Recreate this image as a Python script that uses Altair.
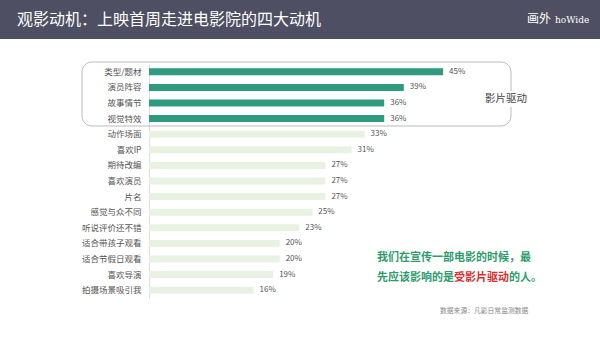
import altair as alt
import pandas as pd

categories = ["类型/题材", "演员阵容", "故事情节", "视觉特效", "动作场面", "喜欢IP", "期待改编",
              "喜欢演员", "片名", "感觉与众不同", "听说评价还不错", "适合带孩子观看", "适合节假日观看",
              "喜欢导演", "拍摄场景吸引我"]
values = [45, 39, 36, 36, 33, 31, 27, 27, 27, 25, 23, 20, 20, 19, 16]
groups = ["影片驱动"] * 4 + ["其他"] * 11

df = pd.DataFrame({"cat": categories, "val": values, "grp": groups})
df["label"] = df["val"].astype(str) + "%"

FONT = "Noto Sans CJK SC"

y = alt.Y("cat:N", sort=categories, title=None,
          scale=alt.Scale(paddingInner=0.55, paddingOuter=0.275),
          axis=alt.Axis(ticks=False, domainColor="#dddddd", labelColor="#555555",
                        labelFontSize=8.5, labelPadding=8, labelFont=FONT))
x = alt.X("val:Q", scale=alt.Scale(domain=[0, 60]), axis=None)

base = alt.Chart(df)

bars = base.mark_bar().encode(
    x=x, y=y,
    color=alt.Color("grp:N", scale=alt.Scale(domain=["影片驱动", "其他"],
                                             range=["#2e9b7e", "#e8f2e2"]), legend=None),
)
labels = base.mark_text(align="left", dx=6, fontSize=8, color="#555555", font=FONT).encode(
    x=x, y=y, text="label:N")

# decorations
header = alt.Chart(pd.DataFrame({"a": [0]})).mark_rect(color="#4e4f62").encode(
    x=alt.value(-149), x2=alt.value(451), y=alt.value(-64), y2=alt.value(-25))
title = alt.Chart(pd.DataFrame({"t": ["观影动机：上映首周走进电影院的四大动机"]})).mark_text(
    align="left", baseline="middle", fontSize=16, color="white", font=FONT).encode(
    x=alt.value(-132), y=alt.value(-44), text="t:N")
logo1 = alt.Chart(pd.DataFrame({"t": ["画外"]})).mark_text(
    align="left", baseline="middle", fontSize=12, color="white", font=FONT).encode(
    x=alt.value(378), y=alt.value(-45), text="t:N")
logo2 = alt.Chart(pd.DataFrame({"t": ["hoWide"]})).mark_text(
    align="left", baseline="middle", fontSize=9, color="white", font="DejaVu Serif").encode(
    x=alt.value(406), y=alt.value(-44), text="t:N")

box = alt.Chart(pd.DataFrame({"a": [0]})).mark_rect(
    filled=False, stroke="#bbbbbb", strokeWidth=1, cornerRadius=10).encode(
    x=alt.value(-67), x2=alt.value(362), y=alt.value(-2), y2=alt.value(62))
boxbg = alt.Chart(pd.DataFrame({"a": [0]})).mark_rect(color="white").encode(
    x=alt.value(333), x2=alt.value(386), y=alt.value(27), y2=alt.value(43))
boxlabel = alt.Chart(pd.DataFrame({"t": ["影片驱动"]})).mark_text(
    align="left", baseline="middle", fontSize=10.5, color="#444444", font=FONT).encode(
    x=alt.value(336), y=alt.value(35), text="t:N")

note_df = pd.DataFrame({
    "t": ["我们在宣传一部电影的时候，最", "先应该影响的是", "受影片驱动", "的人。"],
    "x": [228, 228, 305, 360],
    "y": [194, 214, 214, 214],
    "c": ["#2e9b6e", "#2e9b6e", "#d8302f", "#2e9b6e"],
})
note = alt.Chart(note_df).mark_text(
    align="left", baseline="middle", fontSize=11, fontWeight="bold", font=FONT).encode(
    x=alt.X("x:Q", scale=None), y=alt.Y("y:Q", scale=None), text="t:N",
    color=alt.Color("c:N", scale=None))

source = alt.Chart(pd.DataFrame({"t": ["数据来源：凡影日常监测数据"]})).mark_text(
    align="left", baseline="middle", fontSize=6.8, color="#888888", font=FONT).encode(
    x=alt.value(291), y=alt.value(247), text="t:N")

chart = alt.layer(bars, labels, header, title, logo1, logo2, box, boxbg, boxlabel, note, source).properties(
    width=392, height=234,
    autosize=alt.AutoSizeParams(type="none"),
    padding={"left": 149, "top": 64, "right": 59, "bottom": 40},
    background="white",
).configure_view(stroke=None)

chart.save("out.html", embed_options={"renderer": "svg", "actions": False})
